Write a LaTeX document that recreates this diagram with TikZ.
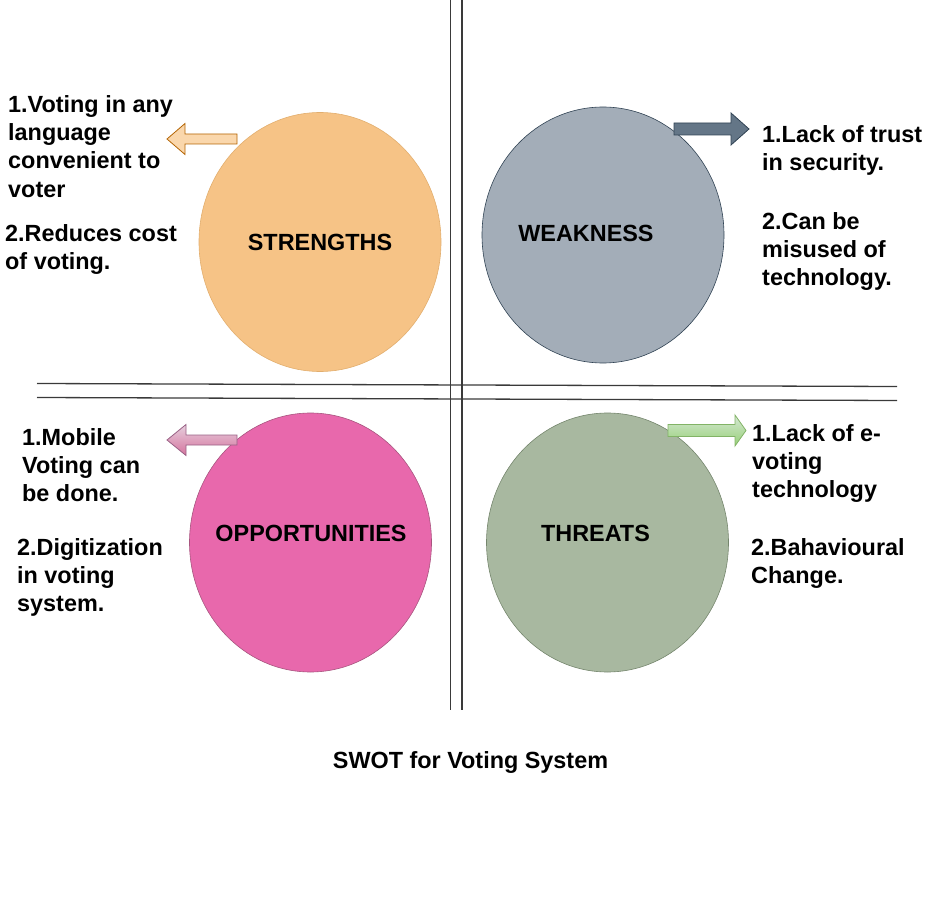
\documentclass[tikz,border=0pt]{standalone}
\usepackage{fontspec}
\setmainfont{Liberation Sans}
\usetikzlibrary{shapes.geometric}

\definecolor{strFill}{HTML}{F6C386}
\definecolor{strLine}{HTML}{E2AE6E}
\definecolor{weakFill}{HTML}{A3ADB8}
\definecolor{weakLine}{HTML}{314354}
\definecolor{oppFill}{HTML}{E868AC}
\definecolor{oppLine}{HTML}{A8557F}
\definecolor{thrFill}{HTML}{A8B8A0}
\definecolor{thrLine}{HTML}{75866D}
\definecolor{orArrFill}{HTML}{FAD7AC}
\definecolor{orArrLine}{HTML}{B46504}
\definecolor{slArrFill}{HTML}{647687}
\definecolor{slArrLine}{HTML}{314354}
\definecolor{pkTop}{HTML}{E6D0DE}
\definecolor{pkBot}{HTML}{D5739D}
\definecolor{pkLine}{HTML}{996185}
\definecolor{grTop}{HTML}{D5E8D4}
\definecolor{grBot}{HTML}{97D077}
\definecolor{grLine}{HTML}{82B366}
\definecolor{rule}{HTML}{3A3A3A}

\begin{document}
\begin{tikzpicture}[x=1pt,y=-1pt,
  swotfont/.style={font=\bfseries\fontsize{23.4}{28.3}\selectfont},
  quadrant/.style={ellipse, inner sep=0, line width=0.6pt,
    minimum width=242pt, minimum height=259pt},
  quadlabel/.style={swotfont, inner sep=0, anchor=center},
  sidetext/.style={swotfont, align=left, inner sep=0, anchor=north west},
  divider/.style={draw=rule, line width=1.3pt},
  blockarrow/.style={line width=0.8pt, line join=miter}
]
\useasboundingbox (0,0) rectangle (948,901);

% quadrant dividers (double lines)
\coordinate (vaTop) at (450.5,0);   \coordinate (vaBot) at (450.5,710);
\coordinate (vbTop) at (462,0);     \coordinate (vbBot) at (462,710);
\coordinate (haL) at (37,383.5);    \coordinate (haR) at (897,386.5);
\coordinate (hbL) at (37,397.5);    \coordinate (hbR) at (897,400.5);
\draw[divider] (vaTop) -- (vaBot);
\draw[divider] (vbTop) -- (vbBot);
\draw[divider] (haL) -- (haR);
\draw[divider] (hbL) -- (hbR);

% the four SWOT ellipses
\node[quadrant, fill=strFill, draw=strLine]   (str) at (320,242) {};
\node[quadrant, fill=weakFill, draw=weakLine, minimum height=256pt] (weak) at (603,235) {};
\node[quadrant, fill=oppFill, draw=oppLine]   (opp) at (310.5,542.5) {};
\node[quadrant, fill=thrFill, draw=thrLine]   (thr) at (607.5,542.5) {};

\node[quadlabel] (strL)  at (320,242)   {STRENGTHS};
\node[quadlabel] (weakL) at (586,233)   {WEAKNESS};
\node[quadlabel] (oppL)  at (311,533)   {OPPORTUNITIES};
\node[quadlabel] (thrL)  at (595.5,533) {THREATS};

% block arrows pointing to the notes
\draw[blockarrow, fill=orArrFill, draw=orArrLine]
  (237,134) -- (185,134) -- (185,123.5) -- (167,139) -- (185,154.5)
  -- (185,144) -- (237,144) -- cycle;
\draw[blockarrow, fill=slArrFill, draw=slArrLine]
  (674,123) -- (731,123) -- (731,113) -- (749,129) -- (731,145)
  -- (731,135) -- (674,135) -- cycle;
\shadedraw[blockarrow, top color=pkTop, bottom color=pkBot, draw=pkLine]
  (237,435) -- (186,435) -- (186,424.5) -- (167,440) -- (186,455.5)
  -- (186,445) -- (237,445) -- cycle;
\shadedraw[blockarrow, top color=grTop, bottom color=grBot, draw=grLine]
  (668,424.5) -- (735,424.5) -- (735,415) -- (746,430.5) -- (735,446)
  -- (735,436.5) -- (668,436.5) -- cycle;

% notes
\node[sidetext] (strA) at (8,95.2)   {1.Voting in any\\language\\convenient to\\voter};
\node[sidetext] (strB) at (5,224.2)  {2.Reduces cost\\of voting.};
\node[sidetext] (weakA) at (762,125.2) {1.Lack of trust\\in security.};
\node[sidetext] (weakB) at (762,212.2) {2.Can be\\misused of\\technology.};
\node[sidetext] (oppA) at (22,428.2)  {1.Mobile\\Voting can\\be done.};
\node[sidetext] (oppB) at (17,538.2)  {2.Digitization\\in voting\\system.};
\node[sidetext] (thrA) at (752,424.2) {1.Lack of e-\\voting\\technology};
\node[sidetext] (thrB) at (751,538.2) {2.Bahavioural\\Change.};

% caption
\node[swotfont, inner sep=0, anchor=base] (caption) at (470.5,768) {SWOT for Voting System};
\end{tikzpicture}
\end{document}
